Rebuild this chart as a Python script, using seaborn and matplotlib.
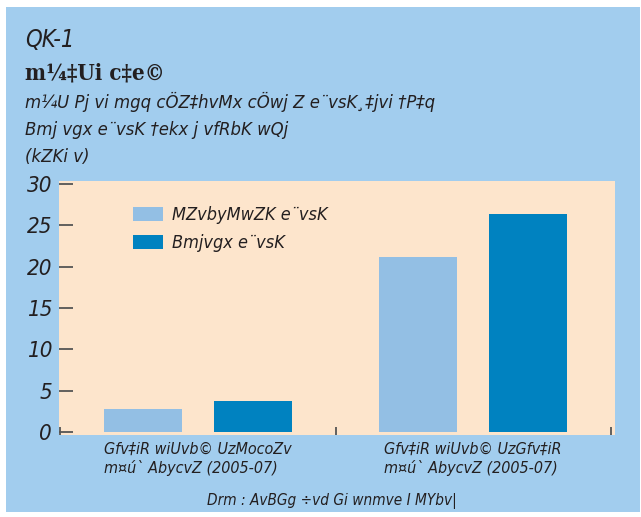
import matplotlib
matplotlib.use("Agg")
import matplotlib.pyplot as plt
from matplotlib.patches import Rectangle, Patch
import pandas as pd
import seaborn as sns

# data
categories = [
    "Gfv‡iR wiUvb© UzMocoZv\nm¤ú` AbycvZ (2005-07)",
    "Gfv‡iR wiUvb© UzGfv‡iR\nm¤ú` AbycvZ (2005-07)",
]
conventional = [2.8, 21.2]
islamic = [3.7, 26.4]
series_names = ["MZvbyMwZK e¨vsK", "Bmjvgx e¨vsK"]
yticks = [0, 5, 10, 15, 20, 25, 30]

BG = "#A2CDEE"
PLOT_BG = "#FDE5CC"
LIGHT = "#93BFE4"
DARK = "#0082C0"
TXT = "#231F20"

sns.set_theme(style="white")
plt.rcParams["font.family"] = ["DejaVu Sans"]
plt.rcParams["font.stretch"] = "condensed"

df = pd.DataFrame(
    {
        "category": categories * 2,
        "value": conventional + islamic,
        "bank": [series_names[0]] * 2 + [series_names[1]] * 2,
    }
)

fig = plt.figure(figsize=(6.41, 5.17), dpi=100, facecolor="white")
# light blue panel behind everything
fig.patches.append(
    Rectangle((6 / 641, 5 / 517), 634 / 641, 505 / 517,
              transform=fig.transFigure, facecolor=BG, edgecolor="none", zorder=-10)
)

ax = fig.add_axes([59 / 641, 82 / 517, 556 / 641, 254 / 517])
ax.set_facecolor(PLOT_BG)

sns.barplot(
    data=df, x="category", y="value", hue="bank",
    palette=[LIGHT, DARK], width=0.8, gap=0.29, saturation=1,
    linewidth=0, ax=ax, legend=False,
)

ax.set_xlim(-0.505, 1.515)
ax.set_ylim(-0.36, 30.36)
for s in ax.spines.values():
    s.set_visible(False)

ax.set_yticks(yticks)
ax.set_yticklabels([str(v) for v in yticks], fontsize=16, style="italic", color=TXT)
ax.tick_params(axis="y", direction="in", length=10, width=1.3, color="#555555",
               pad=5, left=True)
ax.set_xticks([0, 1])
ax.set_xticklabels(categories, fontsize=11.5, style="italic", color=TXT,
                   multialignment="left")
ax.tick_params(axis="x", which="major", length=0, pad=5)
ax.set_xticks([-0.5, 0.5, 1.5], minor=True)
ax.tick_params(axis="x", which="minor", direction="in", length=6, width=1.3,
               color="#555555", bottom=True)
ax.set_xlabel("")
ax.set_ylabel("")

handles = [Patch(facecolor=LIGHT, edgecolor="none"),
           Patch(facecolor=DARK, edgecolor="none")]
ax.legend(handles, series_names, loc="upper left", bbox_to_anchor=(0.133, 0.9),
          borderaxespad=0, borderpad=0,
          frameon=False, prop={"size": 13, "style": "italic", "stretch": "condensed"},
          handlelength=1.65, handleheight=0.8, labelspacing=0.55, handletextpad=0.5,
          labelcolor=TXT)

# header texts
fig.text(25 / 641, 1 - 47 / 517, "QK-1", fontsize=17, style="italic",
         color=TXT, va="baseline")
fig.text(25 / 641, 1 - 80 / 517, "m¼‡Ui c‡e©", fontsize=16, weight="bold",
         family=["DejaVu Serif"], color=TXT, va="baseline")
fig.text(25 / 641, 1 - 108 / 517, "m¼U Pj vi mgq cÖZ‡hvMx cÖwj Z e¨vsK¸‡jvi †P‡q",
         fontsize=13.2, style="italic", color=TXT, va="baseline")
fig.text(25 / 641, 1 - 135 / 517, "Bmj vgx e¨vsK †ekx j vfRbK wQj",
         fontsize=13.2, style="italic", color=TXT, va="baseline")
fig.text(25 / 641, 1 - 162 / 517, "(kZKi v)",
         fontsize=13.2, style="italic", color=TXT, va="baseline")

fig.text(332 / 641, 1 - 505 / 517, "Drm : AvBGg ÷vd Gi wnmve I MYbv|",
         fontsize=11, style="italic", color=TXT, va="baseline", ha="center")

fig.savefig("out.png", dpi=100, facecolor="white")
